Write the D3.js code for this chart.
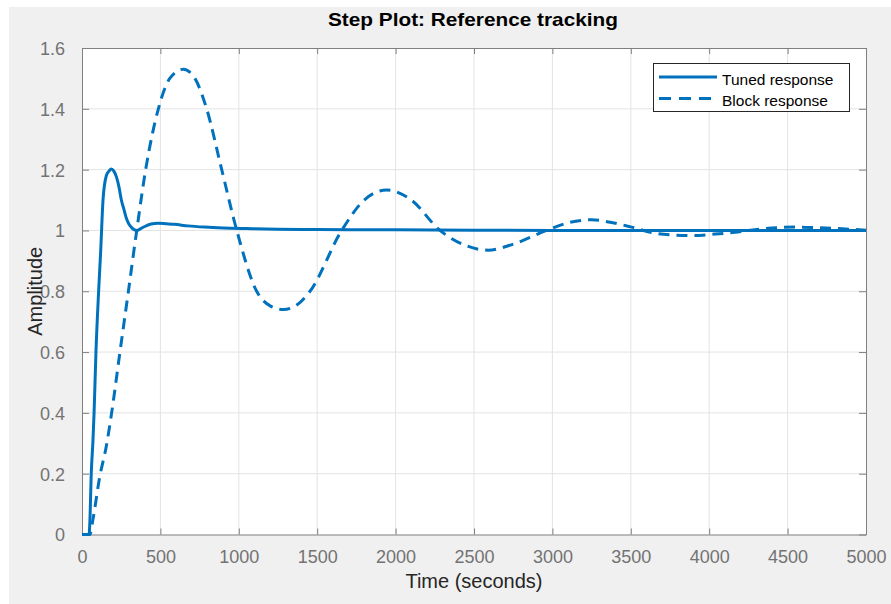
<!DOCTYPE html>
<html>
<head>
<meta charset="utf-8">
<script src="https://cdn.jsdelivr.net/npm/d3@7"></script>
<style>
  body { margin: 0; background: #fff; }
  svg { display: block; font-family: "Liberation Sans", Arial, sans-serif; }
</style>
</head>
<body>
<script>
// Tuned response (solid)
const tunedTime = [0, 45, 50, 59, 70, 77, 89, 106, 119, 134, 155, 172, 187, 203, 219, 235, 251, 267, 283, 300, 315, 335, 353, 375, 400, 440, 485, 540, 591, 676, 780, 900, 1050, 1250, 1500, 2000, 2500, 3000, 4000, 5000];
const tunedValue = [0, 0, 0.04, 0.2, 0.31, 0.4, 0.6, 0.8, 0.93, 1.1, 1.18, 1.195, 1.202, 1.195, 1.177, 1.145, 1.1, 1.07, 1.04, 1.02, 1.01, 1.002, 1.0, 1.006, 1.013, 1.021, 1.024, 1.022, 1.02, 1.015, 1.011, 1.008, 1.006, 1.004, 1.003, 1.002, 1.001, 1.0, 1.0, 1.0];

// Block response (dashed)
const blockTime = [0, 50, 70, 113, 155, 189, 242, 296, 349, 406, 487, 560, 646, 720, 795, 891, 987, 1114, 1200, 1284, 1370, 1454, 1656, 1800, 1943, 2100, 2283, 2450, 2591, 2750, 2963, 3100, 3250, 3378, 3505, 3644, 3772, 3900, 4037, 4165, 4303, 4430, 4558, 4686, 4821, 5000];
const blockValue = [0, 0, 0.05, 0.19, 0.29, 0.4, 0.6, 0.8, 1.0, 1.2, 1.4, 1.5, 1.53, 1.5, 1.4, 1.2, 1.0, 0.8, 0.752, 0.74, 0.755, 0.8, 1.0, 1.1, 1.133, 1.1, 1.0, 0.95, 0.935, 0.955, 1.0, 1.025, 1.035, 1.026, 1.011, 0.992, 0.985, 0.983, 0.988, 0.994, 1.003, 1.009, 1.011, 1.009, 1.006, 1.001];

const xTicks = [0, 500, 1000, 1500, 2000, 2500, 3000, 3500, 4000, 4500, 5000];
const yTicks = [0, 0.2, 0.4, 0.6, 0.8, 1, 1.2, 1.4, 1.6];
const seriesNames = ["Tuned response", "Block response"];

const W = 891, H = 604;
const plotL = 82, plotR = 866, plotT = 48, plotB = 534.5;
const blue = "#0072bd";
const axisGray = "#808080";

const svg = d3.select("body").append("svg")
  .attr("width", W)
  .attr("height", H);

// figure background
svg.append("rect")
  .attr("x", 9).attr("y", 7)
  .attr("width", W - 9).attr("height", H - 7)
  .attr("fill", "#f0f0f0");

const x = d3.scaleLinear().domain([0, 5000]).range([plotL, plotR]);
const y = d3.scaleLinear().domain([0, 1.6]).range([plotB, plotT]);

// plot area
svg.append("rect")
  .attr("x", plotL).attr("y", plotT)
  .attr("width", plotR - plotL).attr("height", plotB - plotT)
  .attr("fill", "#fff");

// grid
svg.append("g").selectAll("line")
  .data(xTicks.slice(1, -1))
  .enter().append("line")
  .attr("x1", d => x(d)).attr("x2", d => x(d))
  .attr("y1", plotT).attr("y2", plotB)
  .attr("stroke", "#e3e3e3").attr("stroke-width", 1);

svg.append("g").selectAll("line")
  .data(yTicks.slice(1, -1))
  .enter().append("line")
  .attr("x1", plotL).attr("x2", plotR)
  .attr("y1", d => y(d)).attr("y2", d => y(d))
  .attr("stroke", "#e3e3e3").attr("stroke-width", 1);

// axes
const fmtY = d => d === 0 || d === 1 ? String(d) : d3.format(".1f")(d);

const xAxis = svg.append("g")
  .attr("transform", `translate(0,${plotB})`)
  .call(d3.axisBottom(x).tickValues(xTicks).tickSizeInner(-6).tickSizeOuter(0).tickPadding(16).tickFormat(d3.format("d")));

const yAxis = svg.append("g")
  .attr("transform", `translate(${plotL},0)`)
  .call(d3.axisLeft(y).tickValues(yTicks).tickSizeInner(-7).tickSizeOuter(0).tickPadding(17).tickFormat(fmtY));

const xTop = svg.append("g")
  .attr("transform", `translate(0,${plotT})`)
  .call(d3.axisTop(x).tickValues(xTicks).tickSizeInner(-6).tickSizeOuter(0).tickFormat(""));

const yRight = svg.append("g")
  .attr("transform", `translate(${plotR},0)`)
  .call(d3.axisRight(y).tickValues(yTicks).tickSizeInner(-7).tickSizeOuter(0).tickFormat(""));

[xAxis, yAxis, xTop, yRight].forEach(g => {
  g.select(".domain").attr("stroke", axisGray);
  g.selectAll(".tick line").attr("stroke", axisGray);
  g.selectAll(".tick text")
    .attr("fill", "#737373")
    .style("font-size", "18px")
    .style("font-family", "'Liberation Sans', Arial, sans-serif");
});
yAxis.selectAll(".tick text").attr("dy", "0.36em");
xAxis.selectAll(".tick text").attr("dy", "0.7em");

// lines
const line = d3.line()
  .x(d => x(d[0]))
  .y(d => y(d[1]))
  .curve(d3.curveMonotoneX);

const tunedData = tunedTime.map((t, i) => [t, tunedValue[i]]);
const blockData = blockTime.map((t, i) => [t, blockValue[i]]);

svg.append("path")
  .datum(blockData)
  .attr("fill", "none")
  .attr("stroke", blue)
  .attr("stroke-width", 3)
  .attr("stroke-dasharray", "11,7")
  .attr("d", line);

svg.append("path")
  .datum(tunedData)
  .attr("fill", "none")
  .attr("stroke", blue)
  .attr("stroke-width", 3)
  .attr("stroke-linejoin", "round")
  .attr("d", line);

// titles
svg.append("text")
  .attr("x", 473).attr("y", 26)
  .attr("text-anchor", "middle")
  .attr("font-weight", "bold")
  .attr("font-size", 19)
  .attr("textLength", 290)
  .attr("lengthAdjust", "spacingAndGlyphs")
  .attr("fill", "#000")
  .text("Step Plot: Reference tracking");

svg.append("text")
  .attr("x", (plotL + plotR) / 2).attr("y", 588)
  .attr("text-anchor", "middle")
  .attr("font-size", 20)
  .attr("fill", "#262626")
  .text("Time (seconds)");

svg.append("text")
  .attr("transform", `translate(42,${(plotT + plotB) / 2}) rotate(-90)`)
  .attr("text-anchor", "middle")
  .attr("font-size", 20)
  .attr("fill", "#262626")
  .text("Amplitude");

// legend
const legend = svg.append("g");
legend.append("rect")
  .attr("x", 653.5).attr("y", 63.5)
  .attr("width", 196).attr("height", 48)
  .attr("fill", "#fff")
  .attr("stroke", "#262626")
  .attr("stroke-width", 1);

const items = legend.selectAll(".legend-item")
  .data(seriesNames)
  .enter().append("g")
  .attr("class", "legend-item")
  .attr("transform", (d, i) => `translate(0,${i * 21.5})`);

items.append("line")
  .attr("x1", 659).attr("x2", 717)
  .attr("y1", 77).attr("y2", 77)
  .attr("stroke", blue)
  .attr("stroke-width", 3)
  .attr("stroke-dasharray", (d, i) => i === 0 ? null : "12,8");

items.append("text")
  .attr("x", 722).attr("y", 84.5)
  .attr("font-size", 15.5)
  .attr("fill", "#000")
  .text(d => d);
</script>
</body>
</html>
